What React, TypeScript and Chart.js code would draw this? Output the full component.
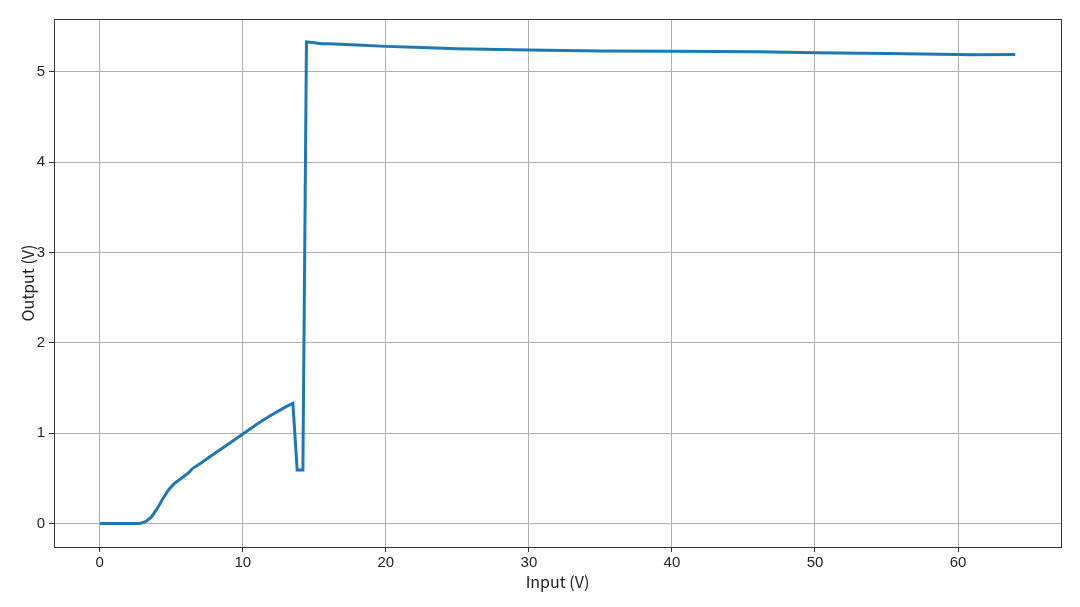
import React, { useEffect, useRef } from "react";
import { Chart, registerables } from "chart.js";

Chart.register(...registerables);

const inputV = [0, 1, 2, 2.8, 3.2, 3.6, 4.0, 4.4, 4.8, 5.2, 5.7, 6.2, 6.5, 7, 8, 9, 10, 11, 12, 13, 13.5, 13.8, 14.2, 14.45, 15, 15.5, 16, 18, 20, 22, 25, 30, 35, 40, 46, 50, 55, 60, 61, 64];
const outputV = [0, 0, 0, 0, 0.02, 0.07, 0.16, 0.27, 0.37, 0.44, 0.5, 0.56, 0.61, 0.66, 0.77, 0.88, 0.99, 1.1, 1.2, 1.29, 1.33, 0.59, 0.59, 5.33, 5.32, 5.31, 5.31, 5.295, 5.28, 5.27, 5.255, 5.24, 5.23, 5.225, 5.22, 5.21, 5.2, 5.19, 5.188, 5.19];
const xTicks = [0, 10, 20, 30, 40, 50, 60];
const yTicks = [0, 1, 2, 3, 4, 5];

const frame = {
  id: "frame",
  afterDraw(chart: any) {
    const { ctx, chartArea: a } = chart;
    ctx.save();
    ctx.strokeStyle = "#333";
    ctx.lineWidth = 1;
    ctx.strokeRect(a.left + 0.5, a.top + 0.5, a.right - a.left, a.bottom - a.top);
    ctx.restore();
  },
};

export default function App() {
  const ref = useRef<HTMLCanvasElement>(null);
  useEffect(() => {
    document.body.style.margin = "0";
    const chart = new Chart(ref.current!, {
      type: "scatter",
      data: {
        datasets: [
          {
            data: inputV.map((x, i) => ({ x, y: outputV[i] })),
            showLine: true,
            borderColor: "#1f77b4",
            backgroundColor: "#1f77b4",
            borderWidth: 3,
            pointRadius: 0,
            tension: 0,
          },
        ],
      },
      options: {
        animation: false,
        responsive: false,
        layout: { padding: { left: 0, top: 19, right: 19, bottom: 0 } },
        plugins: { legend: { display: false }, tooltip: { enabled: false } },
        scales: {
          x: {
            type: "linear",
            min: -3.2,
            max: 67.2,
            afterFit: (s: any) => { s.height = 60; },
            afterBuildTicks: (s: any) => { s.ticks = xTicks.map((v) => ({ value: v })); },
            grid: { color: "#b0b0b0", tickLength: 5, tickColor: "#333" },
            border: { color: "#333" },
            ticks: { color: "#222", font: { family: "Liberation Sans", size: 15 }, padding: 2, maxRotation: 0 },
            title: { display: true, text: "Input (V)", color: "#222", font: { family: "Noto Sans CJK SC", size: 16 }, padding: { top: 0, bottom: 15 } },
          },
          y: {
            type: "linear",
            min: -0.261,
            max: 5.583,
            afterFit: (s: any) => { s.width = 54; },
            afterBuildTicks: (s: any) => { s.ticks = yTicks.map((v) => ({ value: v })); },
            grid: { color: "#b0b0b0", tickLength: 5, tickColor: "#333" },
            border: { color: "#333" },
            ticks: { color: "#222", font: { family: "Liberation Sans", size: 15 }, padding: 4 },
            title: { display: true, text: "Output (V)", color: "#222", font: { family: "Noto Sans CJK SC", size: 16 }, padding: { top: 18, bottom: 0 } },
          },
        },
      },
      plugins: [frame],
    });
    return () => chart.destroy();
  }, []);
  return (
    <div style={{ position: "absolute", left: 0, top: 0, width: 1080, height: 607, background: "#fff" }}>
      <canvas ref={ref} width={1080} height={607} />
    </div>
  );
}
